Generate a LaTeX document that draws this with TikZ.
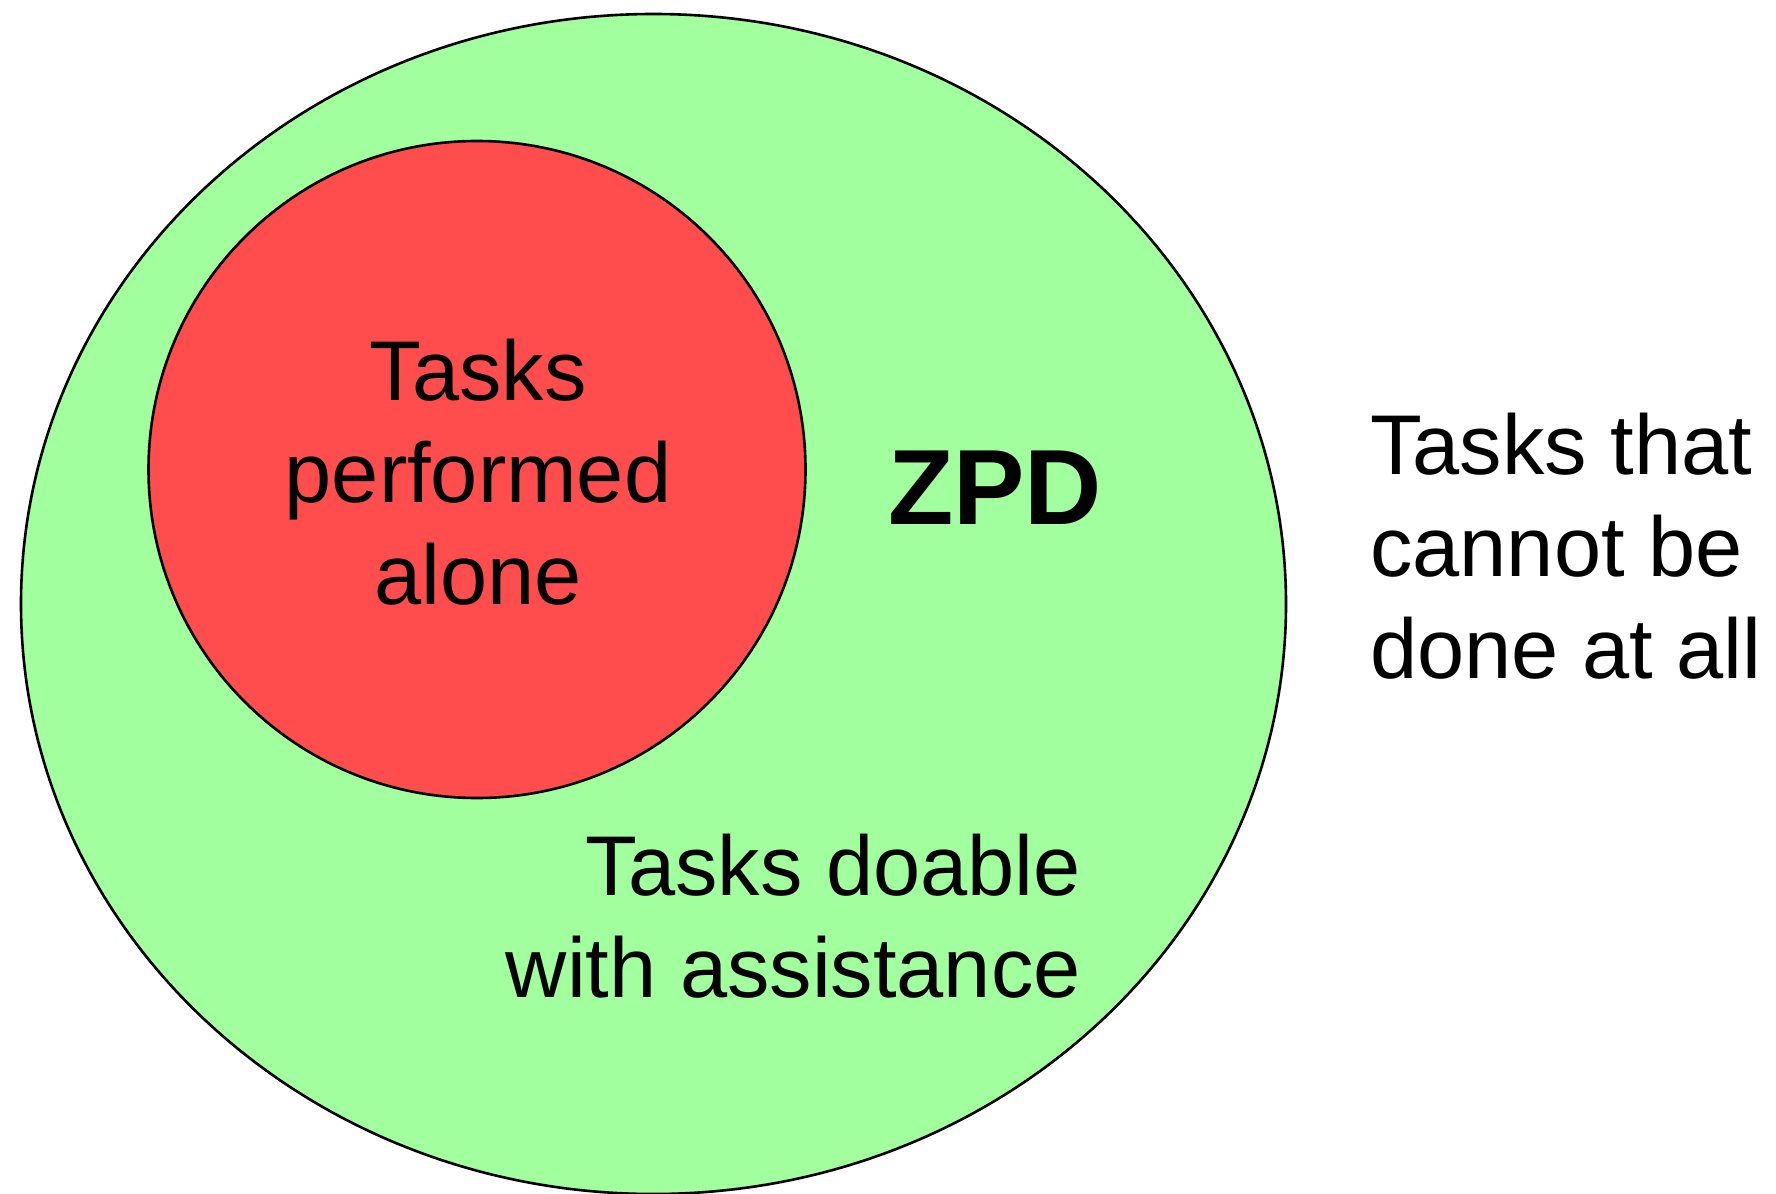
\documentclass[tikz,border=0pt]{standalone}
\usepackage{fontspec}
\setmainfont{Liberation Sans}
\definecolor{zpdgreen}{RGB}{161,255,158}
\definecolor{alonered}{RGB}{255,77,77}
\begin{document}
\begin{tikzpicture}[x=1pt,y=-1pt,
  region/.style={draw=black,line width=2.6pt},
  label/.style={inner sep=0pt,font=\fontsize{84.8}{102}\selectfont}]
\useasboundingbox (0,0) rectangle (1776,1193);
\begin{scope}
\clip (0,0) rectangle (1776,1193);
\draw[region,fill=zpdgreen] (653.5,604) ellipse [x radius=632.5, y radius=590];
\end{scope}
\draw[region,fill=alonered] (477,469.5) circle [radius=328.5];
\node[label,align=center,anchor=north] (alone) at (478,339.3) {Tasks\\performed\\alone};
\node[label,align=right,anchor=north east] (assist) at (1081,834.3) {Tasks doable\\with assistance};
\node[label,align=left,anchor=north west] (cannot) at (1370,413.3) {Tasks that\\cannot be\\done at all};
\node[inner sep=0pt,anchor=north,font=\fontsize{107}{120}\selectfont\bfseries] (zpd) at (995,451) {ZPD};
\end{tikzpicture}
\end{document}
